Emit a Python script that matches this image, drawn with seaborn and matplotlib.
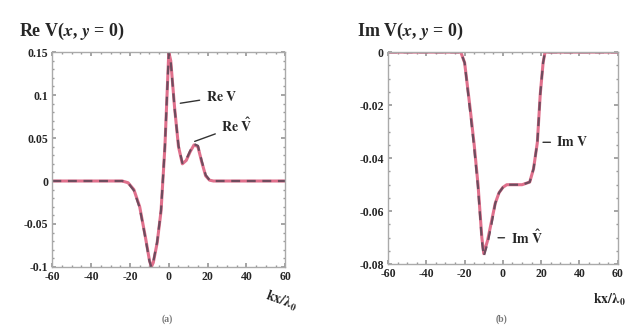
import matplotlib
matplotlib.use("Agg")
import matplotlib.pyplot as plt
import seaborn as sns
import pandas as pd

# sample positions x / lambda_0
x_re = [-60, -30, -24, -21, -18, -15, -12, -10, -9, -8, -6, -4, -2, -1, 0, 1, 3, 5, 7, 9, 11, 13, 15, 17, 19, 21, 23, 30, 60]
re_v = [0, 0, 0, -0.002, -0.010, -0.030, -0.066, -0.092, -0.1, -0.095, -0.072, -0.035, 0.04, 0.095, 0.15, 0.14, 0.085, 0.04, 0.02, 0.024, 0.034, 0.042, 0.04, 0.022, 0.006, 0.001, 0, 0, 0]
re_vhat = [0, 0, 0, -0.002, -0.011, -0.031, -0.067, -0.093, -0.1, -0.094, -0.071, -0.034, 0.041, 0.096, 0.149, 0.139, 0.084, 0.041, 0.021, 0.025, 0.035, 0.043, 0.041, 0.023, 0.007, 0.001, 0, 0, 0]

x_im = [-60, -25, -22, -20, -17, -15, -13, -11, -10, -8, -6, -4, -2, 0, 2, 6, 10, 14, 16, 18, 19.5, 21, 22, 25, 60]
im_v = [0, 0, 0, -0.004, -0.022, -0.035, -0.05, -0.07, -0.076, -0.071, -0.064, -0.057, -0.053, -0.051, -0.050, -0.050, -0.050, -0.049, -0.044, -0.034, -0.016, -0.004, 0, 0, 0]
im_vhat = [0, 0, 0, -0.004, -0.023, -0.036, -0.051, -0.071, -0.077, -0.072, -0.065, -0.057, -0.053, -0.051, -0.050, -0.050, -0.050, -0.049, -0.044, -0.034, -0.016, -0.004, 0, 0, 0]

re_ticks = [-0.1, -0.05, 0, 0.05, 0.1, 0.15]
re_labels = ["-0.1", "-0.05", "0", "0.05", "0.1", "0.15"]
im_ticks = [-0.08, -0.06, -0.04, -0.02, 0]
im_labels = ["-0.08", "-0.06", "-0.04", "-0.02", "0"]
x_ticks = [-60, -40, -20, 0, 20, 40, 60]

sns.set_theme(style="ticks")
plt.rcParams["font.family"] = ["Liberation Serif", "DejaVu Serif"]
plt.rcParams["font.weight"] = "bold"
plt.rcParams["mathtext.fontset"] = "stix"

PINK = "#e0708c"
DARK = "#6e4c5e"

df_re = pd.DataFrame({"x": x_re, "V": re_v, "Vhat": re_vhat})
df_im = pd.DataFrame({"x": x_im, "V": im_v, "Vhat": im_vhat})

fig = plt.figure(figsize=(6.31, 3.32), dpi=100)
ax1 = fig.add_axes([0.083, 0.196, 0.369, 0.647])
ax2 = fig.add_axes([0.615, 0.204, 0.364, 0.639])


def draw(ax, df, ylim, ticks, labels):
    sns.lineplot(data=df, x="x", y="V", ax=ax, color=PINK, linewidth=2.2)
    sns.lineplot(data=df, x="x", y="Vhat", ax=ax, color=DARK, linewidth=1.6, linestyle=(0, (4, 3)))
    ax.set_xlim(-60, 60)
    ax.set_ylim(*ylim)
    ax.set_xticks(x_ticks)
    ax.set_xticklabels([str(t) for t in x_ticks])
    ax.set_yticks(ticks)
    ax.set_yticklabels(labels)
    ax.minorticks_on()
    ax.tick_params(which="both", direction="in", top=True, right=True, color="#999999",
                   labelsize=8.5, pad=3)
    ax.tick_params(which="major", length=3)
    ax.tick_params(which="minor", length=1.5)
    for lbl in ax.get_xticklabels() + ax.get_yticklabels():
        lbl.set_fontweight("bold")
    for s in ax.spines.values():
        s.set_color("#aaaaaa")
        s.set_linewidth(1.0)
    ax.set_xlabel("")
    ax.set_ylabel("")


draw(ax1, df_re, (-0.1, 0.15), re_ticks, re_labels)
draw(ax2, df_im, (-0.08, 0.0), im_ticks, im_labels)

arrow = dict(arrowstyle="-", color="#333333", lw=1.0)
ax1.annotate(r"$\mathbf{Re\ V}$", xy=(4.5, 0.09), xytext=(19, 0.098), fontsize=10,
             arrowprops=arrow, va="center")
ax1.annotate(r"$\mathbf{Re}\ \hat{\mathbf{V}}$", xy=(12, 0.045), xytext=(27, 0.064), fontsize=10,
             arrowprops=arrow, va="center")
ax2.annotate(r"$\mathbf{Im\ V}$", xy=(19.5, -0.034), xytext=(28, -0.034), fontsize=10,
             arrowprops=arrow, va="center")
ax2.annotate(r"$\mathbf{Im}\ \hat{\mathbf{V}}$", xy=(-4, -0.070), xytext=(4, -0.070), fontsize=10,
             arrowprops=arrow, va="center")

fig.text(0.03, 0.905, r"Re V($x$, $y$ = 0)", fontsize=13, fontweight="bold", va="center")
fig.text(0.565, 0.905, r"Im V($x$, $y$ = 0)", fontsize=13, fontweight="bold", va="center")

ax1.text(0.985, -0.16, r"$\mathbf{kx/\lambda_0}$", transform=ax1.transAxes, fontsize=10,
         ha="center", va="center", rotation=-20)
ax2.text(1.035, -0.17, r"$\mathbf{kx/\lambda_0}$", transform=ax2.transAxes, fontsize=10,
         ha="right", va="center")

fig.text(0.265, 0.03, "(a)", fontsize=7, color="#777777", ha="center")
fig.text(0.795, 0.03, "(b)", fontsize=7, color="#777777", ha="center")

fig.savefig("out.png", dpi=100)
